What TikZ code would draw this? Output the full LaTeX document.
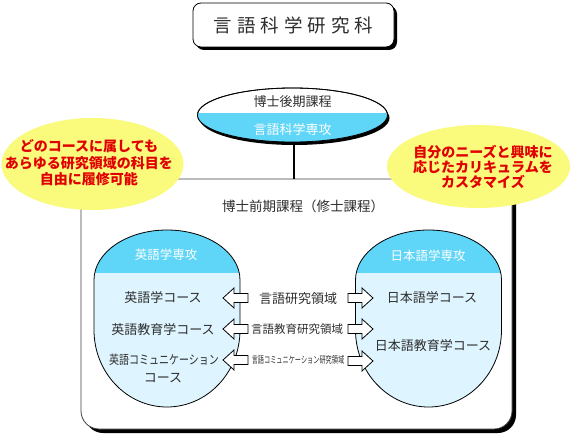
\documentclass[tikz,border=0pt]{standalone}
\usepackage{fontspec}
\usepackage{graphicx}
\setmainfont{Noto Sans CJK JP}
\usetikzlibrary{shapes.geometric}
\definecolor{hdcyan}{RGB}{95,213,248}
\definecolor{bodyblue}{RGB}{222,245,255}
\definecolor{ylw}{RGB}{250,250,125}
\definecolor{redtxt}{RGB}{225,0,0}
\definecolor{txt}{RGB}{45,45,45}
\newcommand\fsz[1]{\fontsize{#1pt}{#1pt}\selectfont}
\tikzset{
  jtext/.style={text=txt, inner sep=0pt, font=\fsz{13}},
  majortext/.style={text=white, inner sep=0pt, font=\fsz{12.5}},
  redtext/.style={text=redtxt, inner sep=0pt, align=center, font=\fontsize{14pt}{16.5pt}\selectfont\bfseries},
  pill/.pic={
    \path[fill=bodyblue] (-73,50) .. controls (-73,22.4) and (-40.3,0) .. (0,0)
      .. controls (40.3,0) and (73,22.4) .. (73,50) -- (73,100)
      .. controls (73,142.5) and (40.3,177) .. (0,177)
      .. controls (-40.3,177) and (-73,142.5) .. (-73,100) -- cycle;
    \begin{scope}
      \clip (-80,-2) rectangle (80,42);
      \fill[hdcyan] (-73,50) .. controls (-73,22.4) and (-40.3,0) .. (0,0)
        .. controls (40.3,0) and (73,22.4) .. (73,50) -- cycle;
    \end{scope}
    \draw[line width=0.8pt] (-73,50) .. controls (-73,22.4) and (-40.3,0) .. (0,0)
      .. controls (40.3,0) and (73,22.4) .. (73,50) -- (73,100)
      .. controls (73,142.5) and (40.3,177) .. (0,177)
      .. controls (-40.3,177) and (-73,142.5) .. (-73,100) -- cycle;
  },
  blockarrow/.pic={
    \draw[fill=white, line width=0.8pt, line join=miter]
      (0,0) -- (11,-10) -- (11,-4.5) -- (25,-4.5) -- (25,4.5) -- (11,4.5) -- (11,10) -- cycle;
  }
}
\begin{document}
\begin{tikzpicture}[x=1pt,y=-1pt]
\useasboundingbox[fill=white] (0,0) rectangle (571,436);

% title
\fill[rounded corners=8pt] (196,6) rectangle (397,50);
\node[draw=black, fill=white, rounded corners=8pt, minimum width=201pt, minimum height=44pt,
      line width=0.8pt, inner sep=0pt, text=txt, font=\fsz{18.5}] (title) at (293.5,25)
  {言\hspace{5pt}語\hspace{5pt}科\hspace{5pt}学\hspace{5pt}研\hspace{5pt}究\hspace{5pt}科};

% master's box
\fill[rounded corners=18pt] (85,183) rectangle (516,433);
\node[draw=black!75, fill=white, rounded corners=18pt, minimum width=431pt, minimum height=250pt,
      line width=0.8pt, inner sep=0pt] (master) at (296.5,304) {};

% doctoral ellipse
\fill (294.5,118) ellipse [x radius=95pt, y radius=27pt];
\node[ellipse, draw=black, fill=white, minimum width=190pt, minimum height=54pt,
      inner sep=0pt, line width=0.8pt] (phd) at (292.5,115) {};
\begin{scope}
  \clip (190,114) rectangle (395,150);
  \fill[hdcyan] (292.5,115) ellipse [x radius=95pt, y radius=27pt];
\end{scope}
\draw[line width=0.8pt] (292.5,115) ellipse [x radius=95pt, y radius=27pt];
\node[jtext] (phdlbl) at (292.5,102) {博士後期課程};
\node[majortext, font=\fsz{13}] (phdmaj) at (292.5,130) {言語科学専攻};

% connector
\draw[line width=2.2pt] ([xshift=1.5pt]phd.south) -- ([xshift=1.5pt]phd.south |- master.north);

% yellow notes
\fill[ylw] (92.5,164) ellipse [x radius=91pt, y radius=46pt];
\fill[ylw] (478.5,166.5) ellipse [x radius=91.5pt, y radius=41.5pt];
\node[redtext] (noteL) at (89,163) {どのコースに属しても\\あらゆる研究領域の科目を\\自由に履修可能};
\node[redtext, font=\fontsize{14pt}{15pt}\selectfont\bfseries] (noteR) at (483,167)
  {自分のニーズと興味に\\応じたカリキュラムを\\カスタマイズ};

% master's label
\node[jtext, font=\fsz{13.5}] (masterlbl) at (303,206) {博士前期課程（修士課程）};

% majors
\pic (eng) at (167,230) {pill};
\pic (jpn) at (428.5,230) {pill};
\node[majortext] (englbl) at (166,255) {英語学専攻};
\node[majortext] (jpnlbl) at (428,256) {日本語学専攻};

\node[jtext] (e1) at (163,298) {英語学コース};
\node[jtext] (e2) at (163,330) {英語教育学コース};
\node[jtext] (e3) at (164,360) {\scalebox{0.8}[1]{\fsz{12.5}英語コミュニケーション}};
\node[jtext] (e3b) at (163,378) {コース};

\node[jtext] (j1) at (432,298) {日本語学コース};
\node[jtext] (j2) at (433,346) {日本語教育学コース};

\node[jtext] (r1) at (298,299) {言語研究領域};
\node[jtext, font=\fsz{11.5}] (r2) at (297,329) {言語教育研究領域};
\node[jtext] (r3) at (298,360) {\scalebox{0.65}[1]{\fsz{9.5}言語コミュニケーション研究領域}};

% block arrows
\pic at (223,298) {blockarrow};
\pic at (223,329) {blockarrow};
\pic at (223,360) {blockarrow};
\pic[xscale=-1] at (373,298) {blockarrow};
\pic[xscale=-1] at (373,329) {blockarrow};
\pic[xscale=-1] at (373,361) {blockarrow};
\end{tikzpicture}
\end{document}
